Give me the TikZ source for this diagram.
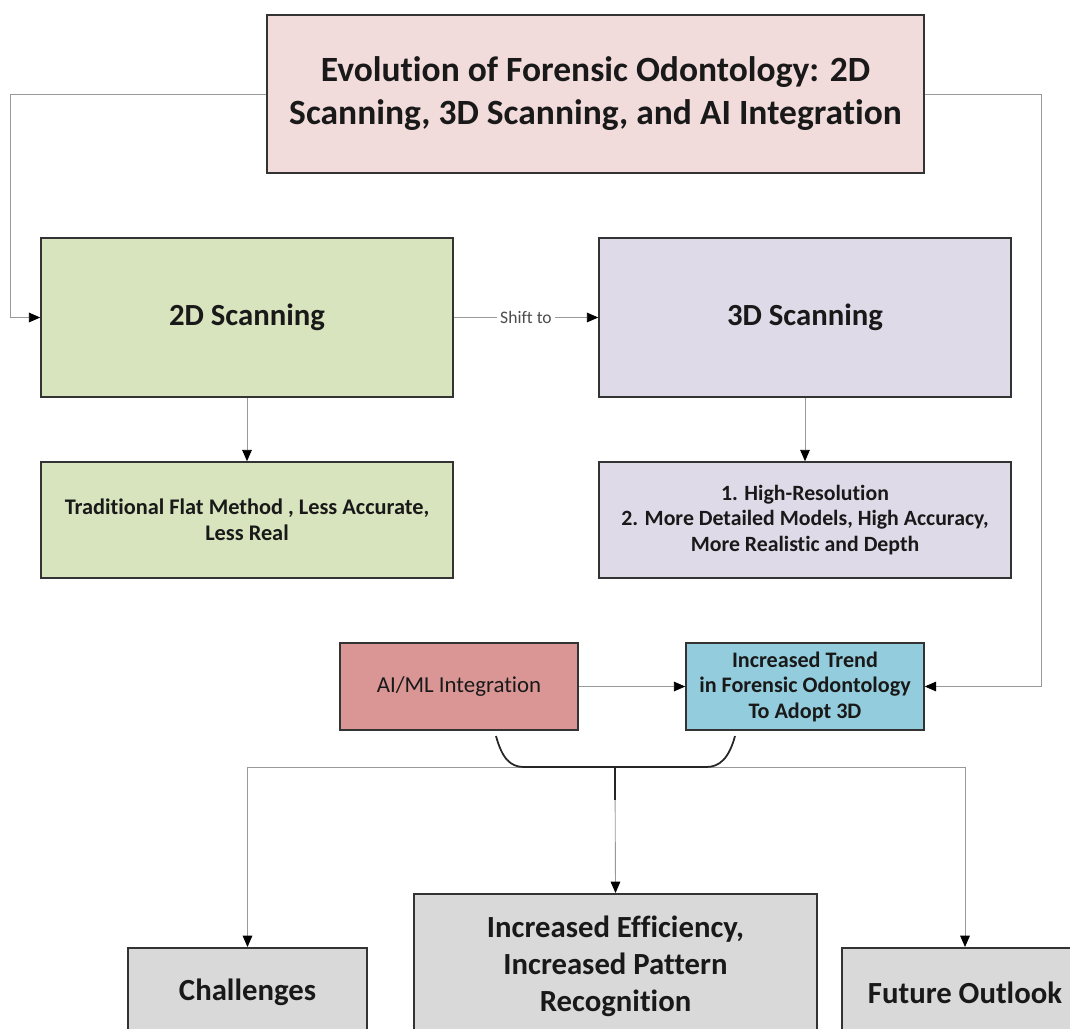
\documentclass[tikz,border=0pt]{standalone}
\usepackage{fontspec}
\setmainfont{Carlito}[Ligatures=NoCommon]
\usetikzlibrary{arrows.meta}
\definecolor{title-pink}{HTML}{F2DCDB}
\definecolor{scan-green}{HTML}{D7E4BD}
\definecolor{scan-lilac}{HTML}{DEDAE8}
\definecolor{ai-red}{HTML}{D99694}
\definecolor{trend-blue}{HTML}{93CDDD}
\definecolor{out-grey}{HTML}{D9D9D9}
\tikzset{
    flow-box/.style = {draw=black!80, line width=0.9pt, rectangle, align=center, inner sep=2pt, text=black!90, font=\bfseries},
    title-box/.style = {flow-box, fill=title-pink, minimum width=13.14cm, minimum height=3.16cm, font=\bfseries\fontsize{20.2}{24.5}\selectfont},
    scan-box/.style = {flow-box, minimum width=8.24cm, minimum height=3.18cm, font=\bfseries\fontsize{17.5}{20}\selectfont},
    note-box/.style = {flow-box, minimum width=8.24cm, minimum height=2.32cm, font=\bfseries\fontsize{12.7}{14.9}\selectfont},
    small-box/.style = {flow-box, minimum width=4.76cm, minimum height=1.74cm, font=\bfseries\fontsize{12.6}{14.5}\selectfont},
    result-box/.style = {flow-box, fill=out-grey, anchor=north, font=\bfseries\fontsize{17.5}{21}\selectfont},
    link/.style = {draw=black!40, line width=0.5pt, -{Triangle[length=6.5pt, width=5.5pt, color=black]}},
    brace-line/.style = {draw=black!85, line width=1pt},
    shift-label/.style = {fill=white, inner sep=2pt, text=black!70, font=\fontsize{10}{11}\selectfont},
}
\begin{document}
\begin{tikzpicture}[x=0.02cm, y=-0.02cm]
\path[use as bounding box, clip] (0,0) rectangle (1070,1028);
\node[title-box] (title) at (595.5,94) {Evolution of Forensic Odontology: 2D\\Scanning, 3D Scanning, and AI Integration};
\node[scan-box, fill=scan-green] (scan2d) at (247,317.5) {2D Scanning};
\node[scan-box, fill=scan-lilac] (scan3d) at (805,317.5) {3D Scanning};
\node[note-box, fill=scan-green] (flat2d) at (247,520) {Traditional Flat Method , Less Accurate,\\Less Real};
\node[note-box, fill=scan-lilac, font=\bfseries\fontsize{12.4}{14.7}\selectfont] (detail3d) at (805,520) {1. High-Resolution\\2. More Detailed Models, High Accuracy,\\More Realistic and Depth};
\node[small-box, fill=ai-red, font=\fontsize{13}{15}\selectfont] (aiml) at (459,686.5) {AI/ML Integration};
\node[small-box, fill=trend-blue] (trend) at (805,686.5) {Increased Trend\\in Forensic Odontology\\To Adopt 3D};
\node[result-box, minimum width=4.78cm, minimum height=1.8cm] (challenges) at (247.5,947) {Challenges};
\node[result-box, minimum width=8.06cm, minimum height=2.9cm] (efficiency) at (615.5,893) {Increased Efficiency,\\Increased Pattern\\Recognition};
\node[result-box, minimum width=4.92cm, minimum height=1.8cm] (outlook) at (965,947) {Future Outlook};

\draw[link] (title.west) -- ++(-256,0) |- (scan2d.west);
\draw[link] (title.east) -- ++(117,0) |- (trend.east);
\draw[link] (scan2d) -- node[shift-label] {Shift to} (scan3d);
\draw[link] (scan2d) -- (flat2d);
\draw[link] (scan3d) -- (detail3d);
\draw[link] (aiml) -- (trend);

\coordinate (split) at (615,767);
\coordinate (brace-left) at (496,736);
\coordinate (brace-right) at (735,736);
\draw[link] (split) -| (challenges.north);
\draw[link] (split) -| (outlook.north);
\draw[link] (split) -- (efficiency.north);
\draw[brace-line] (brace-left) .. controls (502,758) and (510,767) .. (524,767) -- (706,767) .. controls (720,767) and (729,758) .. (brace-right);
\draw[brace-line] (split) -- ++(0,33);
\end{tikzpicture}
\end{document}
